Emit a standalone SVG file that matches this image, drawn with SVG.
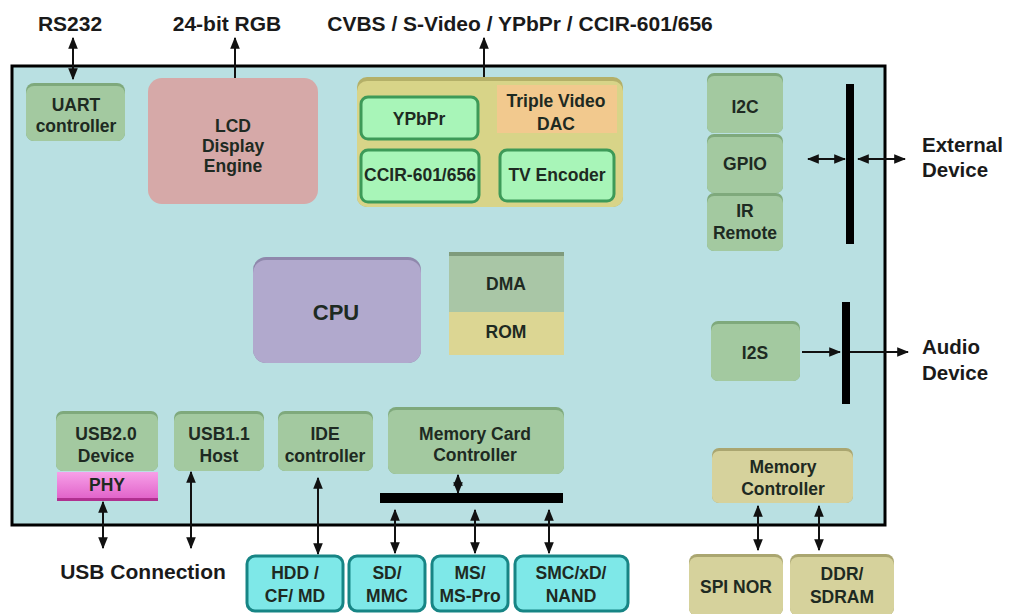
<svg xmlns="http://www.w3.org/2000/svg" width="1010" height="614" viewBox="0 0 1010 614">
<defs>
<style>
text{font-family:"Liberation Sans",Arial,sans-serif;font-weight:bold;fill:#1e2a22;text-anchor:middle}
.lbl{font-size:21px;fill:#1a1a1a}
.ext{font-size:20.5px;fill:#1a1a1a;text-anchor:start}
.n{font-size:17.5px}
.g{fill:#a3c9a0}
.gtop{fill:#7fa97c}
.line{stroke:#111;stroke-width:2;fill:none}
.bar{fill:#000}
.cy{fill:#7ee8e8;stroke:#178585;stroke-width:3}
.kh{fill:#d6d29c}
.khtop{fill:#aaa670}
.vg{fill:#a8f5b8;stroke:#3d9a58;stroke-width:3}
</style>
<marker id="ah" viewBox="0 0 10 10" refX="9" refY="5" markerWidth="6" markerHeight="6" orient="auto-start-reverse">
<path d="M0,1 L10,5 L0,9 z" fill="#111"/>
</marker>
<linearGradient id="phy" x1="0" y1="0" x2="0" y2="1">
<stop offset="0" stop-color="#f7a0e8"/>
<stop offset="1" stop-color="#e060c8"/>
</linearGradient>
</defs>
<rect width="1010" height="614" fill="#fff"/>
<rect x="12" y="66" width="873" height="459" fill="#b9e0e2" stroke="#000" stroke-width="3"/>

<g id="labels">
<text class="lbl" x="70" y="31">RS232</text>
<text class="lbl" x="227" y="31">24-bit RGB</text>
<text class="lbl" x="520" y="31">CVBS / S-Video / YPbPr / CCIR-601/656</text>
<text class="ext" x="922" y="152">External</text>
<text class="ext" x="922" y="177">Device</text>
<text class="ext" x="922" y="354">Audio</text>
<text class="ext" x="922" y="380">Device</text>
<text class="lbl" x="143" y="579">USB Connection</text>
</g>

<g id="connectors">
<line class="line" x1="73" y1="38" x2="73" y2="79" marker-start="url(#ah)" marker-end="url(#ah)"/>
<line class="line" x1="235" y1="38" x2="235" y2="79" marker-start="url(#ah)"/>
<line class="line" x1="484" y1="38" x2="484" y2="80" marker-start="url(#ah)"/>
<line class="line" x1="808" y1="159" x2="845" y2="159" marker-start="url(#ah)" marker-end="url(#ah)" stroke-width="1.5"/>
<line class="line" x1="858" y1="159" x2="905" y2="159" marker-start="url(#ah)" marker-end="url(#ah)" stroke-width="1.5"/>
<line class="line" x1="802" y1="352" x2="840" y2="352" marker-end="url(#ah)" stroke-width="1.5"/>
<line class="line" x1="850" y1="352" x2="908" y2="352" marker-end="url(#ah)" stroke-width="1.5"/>
<line class="line" x1="103" y1="502" x2="103" y2="548" marker-start="url(#ah)" marker-end="url(#ah)"/>
<line class="line" x1="191" y1="472" x2="191" y2="548" marker-start="url(#ah)" marker-end="url(#ah)"/>
<line class="line" x1="318" y1="478" x2="318" y2="554" marker-start="url(#ah)" marker-end="url(#ah)"/>
<line class="line" x1="458" y1="475" x2="458" y2="493" marker-start="url(#ah)" marker-end="url(#ah)"/>
<line class="line" x1="395" y1="510" x2="395" y2="553" marker-start="url(#ah)" marker-end="url(#ah)"/>
<line class="line" x1="475" y1="510" x2="475" y2="553" marker-start="url(#ah)" marker-end="url(#ah)"/>
<line class="line" x1="549" y1="510" x2="549" y2="553" marker-start="url(#ah)" marker-end="url(#ah)"/>
<line class="line" x1="758" y1="506" x2="758" y2="550" marker-start="url(#ah)" marker-end="url(#ah)"/>
<line class="line" x1="819" y1="506" x2="819" y2="550" marker-start="url(#ah)" marker-end="url(#ah)"/>
<rect class="bar" x="846" y="84" width="8" height="160"/>
<rect class="bar" x="842" y="302" width="8" height="102"/>
<rect class="bar" x="380" y="493" width="183" height="10"/>
</g>

<g id="uart">
<rect class="gtop" x="26" y="83" width="99" height="58" rx="8"/>
<rect class="g" x="26" y="86" width="99" height="55" rx="8"/>
<text class="n" x="76" y="111">UART</text>
<text class="n" x="76" y="132">controller</text>
</g>

<g id="lcd">
<rect x="148" y="78" width="170" height="126" rx="14" fill="#d6a9a8"/>
<text class="n" x="233" y="132">LCD</text>
<text class="n" x="233" y="152">Display</text>
<text class="n" x="233" y="172">Engine</text>
</g>

<g id="video">
<rect x="357" y="77" width="266" height="130" rx="10" fill="#b4b068"/>
<rect x="357" y="81" width="266" height="126" rx="10" fill="#d8d488"/>
<rect x="497" y="85" width="120" height="48" fill="#f2c98e"/>
<text class="n" x="556" y="107">Triple Video</text>
<text class="n" x="556" y="130">DAC</text>
<rect class="vg" x="361" y="97" width="117" height="42" rx="7"/>
<text class="n" x="419" y="125">YPbPr</text>
<rect class="vg" x="361" y="150" width="118" height="52" rx="7"/>
<text class="n" x="420" y="181">CCIR-601/656</text>
<rect class="vg" x="500" y="150" width="114" height="51" rx="7"/>
<text class="n" x="557" y="181">TV Encoder</text>
</g>

<g id="i2c">
<rect class="gtop" x="707" y="73" width="76" height="60" rx="7"/>
<rect class="g" x="707" y="76" width="76" height="57" rx="7"/>
<text class="n" x="745" y="113">I2C</text>
</g>
<g id="gpio">
<rect class="gtop" x="707" y="134" width="76" height="59" rx="7"/>
<rect class="g" x="707" y="137" width="76" height="56" rx="7"/>
<text class="n" x="745" y="170">GPIO</text>
</g>
<g id="ir">
<rect class="gtop" x="707" y="193" width="76" height="58" rx="7"/>
<rect class="g" x="707" y="196" width="76" height="55" rx="7"/>
<text class="n" x="745" y="217">IR</text>
<text class="n" x="745" y="239">Remote</text>
</g>
<g id="i2s">
<rect class="gtop" x="711" y="321" width="89" height="60" rx="7"/>
<rect class="g" x="711" y="324" width="89" height="57" rx="7"/>
<text class="n" x="755" y="359">I2S</text>
</g>

<g id="cpu">
<rect x="253" y="257" width="168" height="106" rx="13" fill="#8f88ac"/>
<rect x="253" y="260" width="168" height="103" rx="13" fill="#b1a9cd"/>
<text x="336" y="320" style="font-size:22px">CPU</text>
</g>
<g id="dma">
<rect x="449" y="252" width="115" height="60" fill="#a9c6a6"/>
<rect x="449" y="252" width="115" height="4" fill="#7f9b7c"/>
<text class="n" x="506" y="290">DMA</text>
</g>
<g id="rom">
<rect x="449" y="312" width="115" height="43" fill="#dcd693"/>
<text class="n" x="506" y="338">ROM</text>
</g>

<g id="usb2">
<rect class="gtop" x="56" y="411" width="102" height="60" rx="7"/>
<rect class="g" x="56" y="414" width="102" height="57" rx="7"/>
<text class="n" x="106" y="440">USB2.0</text>
<text class="n" x="106" y="462">Device</text>
</g>
<g id="phy">
<rect x="57" y="472" width="101" height="28" fill="url(#phy)"/>
<rect x="57" y="498" width="101" height="3" fill="#b03090"/>
<text class="n" x="107" y="491">PHY</text>
</g>
<g id="usb11">
<rect class="gtop" x="174" y="411" width="90" height="60" rx="7"/>
<rect class="g" x="174" y="414" width="90" height="57" rx="7"/>
<text class="n" x="219" y="440">USB1.1</text>
<text class="n" x="219" y="462">Host</text>
</g>
<g id="ide">
<rect class="gtop" x="278" y="411" width="95" height="60" rx="7"/>
<rect class="g" x="278" y="414" width="95" height="57" rx="7"/>
<text class="n" x="325" y="440">IDE</text>
<text class="n" x="325" y="462">controller</text>
</g>
<g id="mcc">
<rect class="gtop" x="388" y="407" width="176" height="67" rx="8"/>
<rect class="g" x="388" y="410" width="176" height="64" rx="8"/>
<text class="n" x="475" y="440">Memory Card</text>
<text class="n" x="475" y="461">Controller</text>
</g>
<g id="memctl">
<rect class="khtop" x="712" y="448" width="141" height="55" rx="7"/>
<rect class="kh" x="712" y="451" width="141" height="52" rx="7"/>
<text class="n" x="783" y="473">Memory</text>
<text class="n" x="783" y="495">Controller</text>
</g>

<g id="hdd">
<rect class="cy" x="247" y="556" width="96" height="55" rx="8"/>
<text class="n" x="295" y="579">HDD /</text>
<text class="n" x="295" y="602">CF/ MD</text>
</g>
<g id="sd">
<rect class="cy" x="349" y="556" width="76" height="55" rx="8"/>
<text class="n" x="387" y="579">SD/</text>
<text class="n" x="387" y="602">MMC</text>
</g>
<g id="ms">
<rect class="cy" x="432" y="556" width="76" height="55" rx="8"/>
<text class="n" x="470" y="579">MS/</text>
<text class="n" x="470" y="602">MS-Pro</text>
</g>
<g id="smc">
<rect class="cy" x="515" y="556" width="113" height="55" rx="8"/>
<text class="n" x="571" y="579">SMC/xD/</text>
<text class="n" x="571" y="602">NAND</text>
</g>
<g id="spinor">
<rect class="khtop" x="689" y="554" width="94" height="62" rx="8"/>
<rect class="kh" x="689" y="557" width="94" height="59" rx="8"/>
<text class="n" x="736" y="593">SPI NOR</text>
</g>
<g id="ddr">
<rect class="khtop" x="790" y="554" width="104" height="62" rx="8"/>
<rect class="kh" x="790" y="557" width="104" height="59" rx="8"/>
<text class="n" x="842" y="580">DDR/</text>
<text class="n" x="842" y="603">SDRAM</text>
</g>
</svg>
